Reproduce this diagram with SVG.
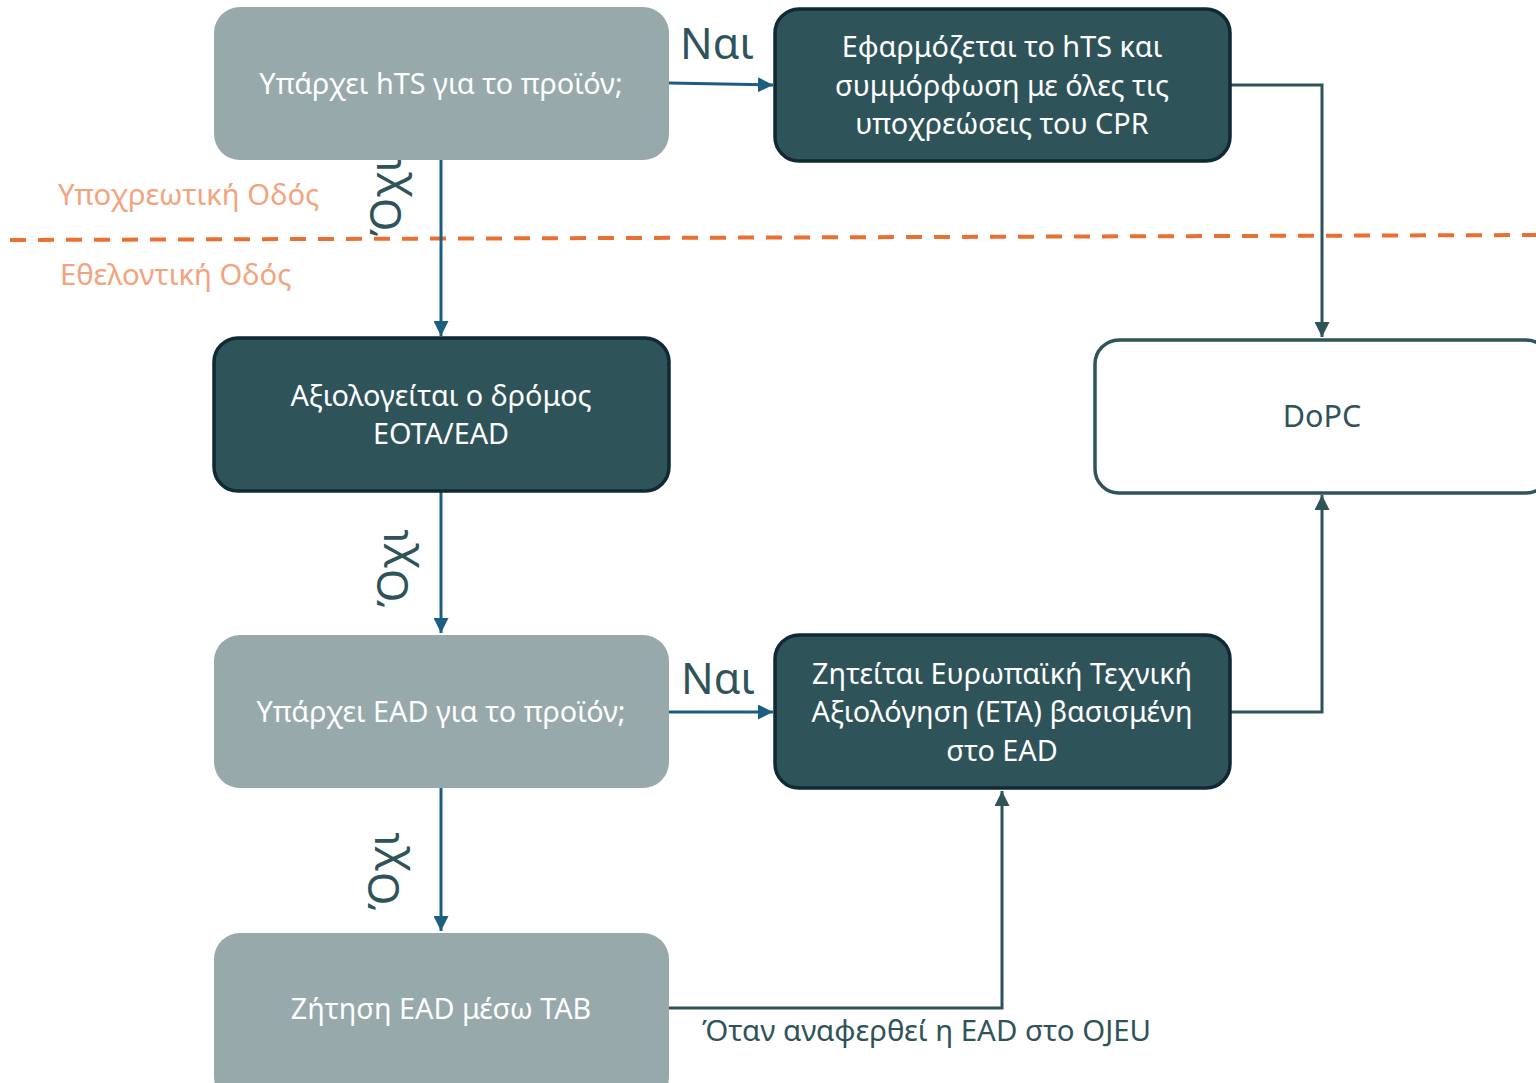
<svg xmlns="http://www.w3.org/2000/svg" width="1536" height="1083" viewBox="0 0 1536 1083">
<defs>
<style>
.grey{fill:#97a9aa;}
.dark{fill:#2e545a;stroke:#0f2935;stroke-width:3.5;}
.white{fill:#ffffff;stroke:#2e545a;stroke-width:3.5;}
.lt{font-family:"Noto Sans","DejaVu Sans",sans-serif;font-size:28.8px;fill:#ffffff;text-anchor:middle;}
.dt{font-family:"Noto Sans","DejaVu Sans",sans-serif;font-size:29.4px;fill:#2e545a;}
.big{font-family:"Noto Sans","DejaVu Sans",sans-serif;font-size:43px;fill:#2e545a;}
.ot{font-family:"Noto Sans","DejaVu Sans",sans-serif;font-size:29.3px;fill:#f2a47e;}
.blue{fill:none;stroke:#1b5e81;stroke-width:3;}
.dk{fill:none;stroke:#2e545a;stroke-width:3;}
</style>
<marker id="ab" viewBox="0 0 10 10" refX="10" refY="5" markerWidth="5" markerHeight="5" orient="auto" markerUnits="strokeWidth"><path d="M0,0 L10,5 L0,10 z" fill="#1b5e81"/></marker>
<marker id="ad" viewBox="0 0 10 10" refX="10" refY="5" markerWidth="5" markerHeight="5" orient="auto" markerUnits="strokeWidth"><path d="M0,0 L10,5 L0,10 z" fill="#2e545a"/></marker>
</defs>
<rect width="1536" height="1083" fill="#ffffff"/>
<g id="lane">
<line x1="10" y1="240" x2="1536" y2="235" stroke="#ea7031" stroke-width="4" stroke-dasharray="16 12"/>
<text class="ot" x="58" y="205">Υποχρεωτική Οδός</text>
<text class="ot" x="60" y="285">Εθελοντική Οδός</text>
</g>
<g id="labels">
<text class="big" text-anchor="middle" transform="translate(401,197) rotate(-90)">Όχι</text>
<text class="big" text-anchor="middle" transform="translate(408,568) rotate(-90)">Όχι</text>
<text class="big" text-anchor="middle" transform="translate(399,871) rotate(-90)">Όχι</text>
<text class="big" x="680" y="59">Ναι</text>
<text class="big" x="681" y="694">Ναι</text>
<text class="dt" x="702" y="1041">Όταν αναφερθεί η EAD στο OJEU</text>
</g>
<g id="connectors">
<path class="blue" d="M669,83 L773,85" marker-end="url(#ab)"/>
<path class="blue" d="M441,160 L441,336" marker-end="url(#ab)"/>
<path class="blue" d="M441,492 L441,633" marker-end="url(#ab)"/>
<path class="blue" d="M669,712 L773,712" marker-end="url(#ab)"/>
<path class="blue" d="M441,788 L441,931" marker-end="url(#ab)"/>
<path class="dk" d="M1231,85 L1322,85 L1322,337" marker-end="url(#ad)"/>
<path class="dk" d="M1231,712 L1322,712 L1322,495" marker-end="url(#ad)"/>
<path class="dk" d="M669,1008 L1002,1008 L1002,791" marker-end="url(#ad)"/>
</g>
<g id="n1">
<rect class="grey" x="214" y="7" width="455" height="153" rx="26"/>
<text class="lt" x="441" y="94">Υπάρχει hTS για το προϊόν;</text>
</g>
<g id="n2">
<rect class="dark" x="775" y="9" width="455" height="152" rx="24"/>
<text class="lt" x="1002" y="57">Εφαρμόζεται το hTS και</text>
<text class="lt" x="1002" y="96">συμμόρφωση με όλες τις</text>
<text class="lt" x="1002" y="134">υποχρεώσεις του CPR</text>
</g>
<g id="n3">
<rect class="dark" x="214" y="338" width="455" height="153" rx="24"/>
<text class="lt" x="441" y="406">Αξιολογείται ο δρόμος</text>
<text class="lt" x="441" y="444">EOTA/EAD</text>
</g>
<g id="n4">
<rect class="white" x="1095" y="340" width="455" height="153" rx="24"/>
<text class="dt" x="1322" y="427" text-anchor="middle" style="font-size:30.5px">DoPC</text>
</g>
<g id="n5">
<rect class="grey" x="214" y="635" width="455" height="153" rx="26"/>
<text class="lt" x="441" y="722">Υπάρχει EAD για το προϊόν;</text>
</g>
<g id="n6">
<rect class="dark" x="775" y="635" width="455" height="153" rx="24"/>
<text class="lt" x="1002" y="684">Ζητείται Ευρωπαϊκή Τεχνική</text>
<text class="lt" x="1002" y="722">Αξιολόγηση (ETA) βασισμένη</text>
<text class="lt" x="1002" y="761">στο EAD</text>
</g>
<g id="n7">
<rect class="grey" x="214" y="933" width="455" height="170" rx="26"/>
<text class="lt" x="441" y="1019">Ζήτηση EAD μέσω TAB</text>
</g>
</svg>
